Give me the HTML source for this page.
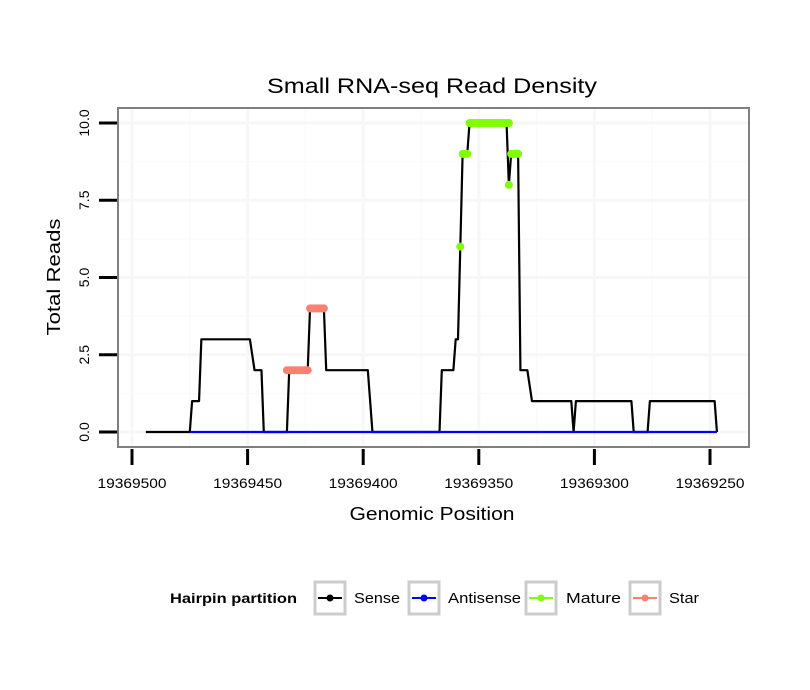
<!DOCTYPE html>
<html><head><meta charset="utf-8"><style>
html,body{margin:0;padding:0;background:#fff;}
svg{display:block;font-family:"Liberation Sans",sans-serif;}
</style></head><body>
<svg id="chart" width="810" height="690" viewBox="0 0 810 690">
<text x="432" y="93" font-size="21" text-anchor="middle" textLength="330" lengthAdjust="spacingAndGlyphs">Small RNA-seq Read Density</text>
<g id="grid"></g>
<g id="series"></g>
<rect x="118" y="108" width="631" height="339" fill="none" stroke="#808080" stroke-width="2"/>
<g id="axes"></g>
<text x="432" y="520" font-size="18" text-anchor="middle" textLength="165" lengthAdjust="spacingAndGlyphs">Genomic Position</text>
<text transform="translate(60,277) rotate(-90)" font-size="18" text-anchor="middle" textLength="117" lengthAdjust="spacingAndGlyphs">Total Reads</text>
<g>
<text x="170" y="603" font-size="14" font-weight="bold" textLength="127" lengthAdjust="spacingAndGlyphs">Hairpin partition</text>
<g>
<rect x="315" y="582" width="30" height="32" fill="#fff" stroke="#ccc" stroke-width="3"/><line x1="318" y1="598" x2="342" y2="598" stroke="#000" stroke-width="2"/><circle cx="330" cy="598" r="3.5" fill="#000"/>
<text x="354" y="603" font-size="15" textLength="46" lengthAdjust="spacingAndGlyphs">Sense</text></g>
<g>
<rect x="409" y="582" width="30" height="32" fill="#fff" stroke="#ccc" stroke-width="3"/><line x1="412" y1="598" x2="436" y2="598" stroke="#00f" stroke-width="2"/><circle cx="424" cy="598" r="3.5" fill="#00f"/>
<text x="448" y="603" font-size="15" textLength="73" lengthAdjust="spacingAndGlyphs">Antisense</text></g>
<g>
<rect x="526" y="582" width="30" height="32" fill="#fff" stroke="#ccc" stroke-width="3"/><line x1="529" y1="598" x2="553" y2="598" stroke="#7fff00" stroke-width="2"/><circle cx="541" cy="598" r="3.5" fill="#7fff00"/>
<text x="566" y="603" font-size="15" textLength="55" lengthAdjust="spacingAndGlyphs">Mature</text></g>
<g>
<rect x="630" y="582" width="30" height="32" fill="#fff" stroke="#ccc" stroke-width="3"/><line x1="633" y1="598" x2="657" y2="598" stroke="#fa8072" stroke-width="2"/><circle cx="645" cy="598" r="3.5" fill="#fa8072"/>
<text x="669" y="603" font-size="15" textLength="30" lengthAdjust="spacingAndGlyphs">Star</text></g>
</g>
</svg>
<script>
const senseX=[19369494,19369475,19369474,19369471,19369470,19369449,19369447,19369444,19369443,19369433,19369432,19369424,19369423,19369417,19369416,19369398,19369396,19369367,19369366,19369361,19369360,19369359,19369358,19369357,19369355,19369354,19369338,19369337,19369336,19369333,19369332,19369329,19369327,19369310,19369309,19369308,19369284,19369283,19369277,19369276,19369248,19369247];
const senseY=[0,0,1,1,3,3,2,2,0,0,2,2,4,4,2,2,0,0,2,2,3,3,6,9,9,10,10,8,9,9,2,2,1,1,0,1,1,0,0,1,1,0];
const antisenseX=[19369475,19369247];
const antisenseY=[0,0];
const matureX=[19369358,19369357,19369356,19369355,19369354,19369353,19369352,19369351,19369350,19369349,19369348,19369347,19369346,19369345,19369344,19369343,19369342,19369341,19369340,19369339,19369338,19369337,19369337,19369336,19369335,19369334,19369333];
const matureY=[6,9,9,9,10,10,10,10,10,10,10,10,10,10,10,10,10,10,10,10,10,10,8,9,9,9,9];
const starX=[19369433,19369432,19369431,19369430,19369429,19369428,19369427,19369426,19369425,19369424,19369423,19369422,19369421,19369420,19369419,19369418,19369417];
const starY=[2,2,2,2,2,2,2,2,2,2,4,4,4,4,4,4,4];
const xTicks=[19369500,19369450,19369400,19369350,19369300,19369250];
const xTickLabels=["19369500","19369450","19369400","19369350","19369300","19369250"];
const yTicks=[0,2.5,5,7.5,10];
const yTickLabels=["0.0","2.5","5.0","7.5","10.0"];

const NS="http://www.w3.org/2000/svg";
function xs(v){return 132+(19369500-v)*2.312;}
function ys(v){return 432-v*30.9;}
function mk(tag,attrs,parent){const e=document.createElementNS(NS,tag);for(const k in attrs)e.setAttribute(k,attrs[k]);parent.appendChild(e);return e;}
const grid=document.getElementById('grid'),series=document.getElementById('series'),axes=document.getElementById('axes');
for(let i=0;i<xTicks.length-1;i++){const m=(xTicks[i]+xTicks[i+1])/2;const l=mk('line',{x1:xs(m),x2:xs(m),y1:108,y2:447,stroke:'#fbfbfb','stroke-width':1.5},grid);

}
for(let i=0;i<yTicks.length-1;i++){const m=(yTicks[i]+yTicks[i+1])/2;const l=mk('line',{x1:118,x2:749,y1:ys(m),y2:ys(m),stroke:'#fbfbfb','stroke-width':1.5},grid);

}
xTicks.forEach((t,i)=>{const l=mk('line',{x1:xs(t),x2:xs(t),y1:108,y2:447,stroke:'#f7f7f7','stroke-width':3},grid);


const tk=mk('line',{x1:xs(t),x2:xs(t),y1:449,y2:465,stroke:'#000','stroke-width':3},axes);


const tx=mk('text',{x:xs(t),y:488,'font-size':14,'text-anchor':'middle',textLength:69,lengthAdjust:'spacingAndGlyphs'},axes);tx.textContent=xTickLabels[i];

});
yTicks.forEach((t,i)=>{const l=mk('line',{x1:118,x2:749,y1:ys(t),y2:ys(t),stroke:'#f7f7f7','stroke-width':3},grid);


const tk=mk('line',{x1:99,x2:117,y1:ys(t),y2:ys(t),stroke:'#000','stroke-width':3},axes);


const tx=mk('text',{transform:`translate(89,${ys(t)}) rotate(-90)`,'font-size':14,'text-anchor':'middle'},axes);tx.textContent=yTickLabels[i];

});
function line(X,Y,col,name){const p=mk('polyline',{points:X.map((x,i)=>xs(x)+','+ys(Y[i])).join(' '),fill:'none',stroke:col,'stroke-width':2.2,'stroke-linejoin':'round'},series);

}
line(senseX,senseY,'#000','sense-line');
line(antisenseX,antisenseY,'#00f','antisense-line');
function pts(X,Y,col,name){X.forEach((x,i)=>{const c=mk('circle',{cx:xs(x),cy:ys(Y[i]),r:4,fill:col},series);

});}
pts(starX,starY,'#fa8072','star-point');
pts(matureX,matureY,'#7fff00','mature-point');
</script>
</body></html>
